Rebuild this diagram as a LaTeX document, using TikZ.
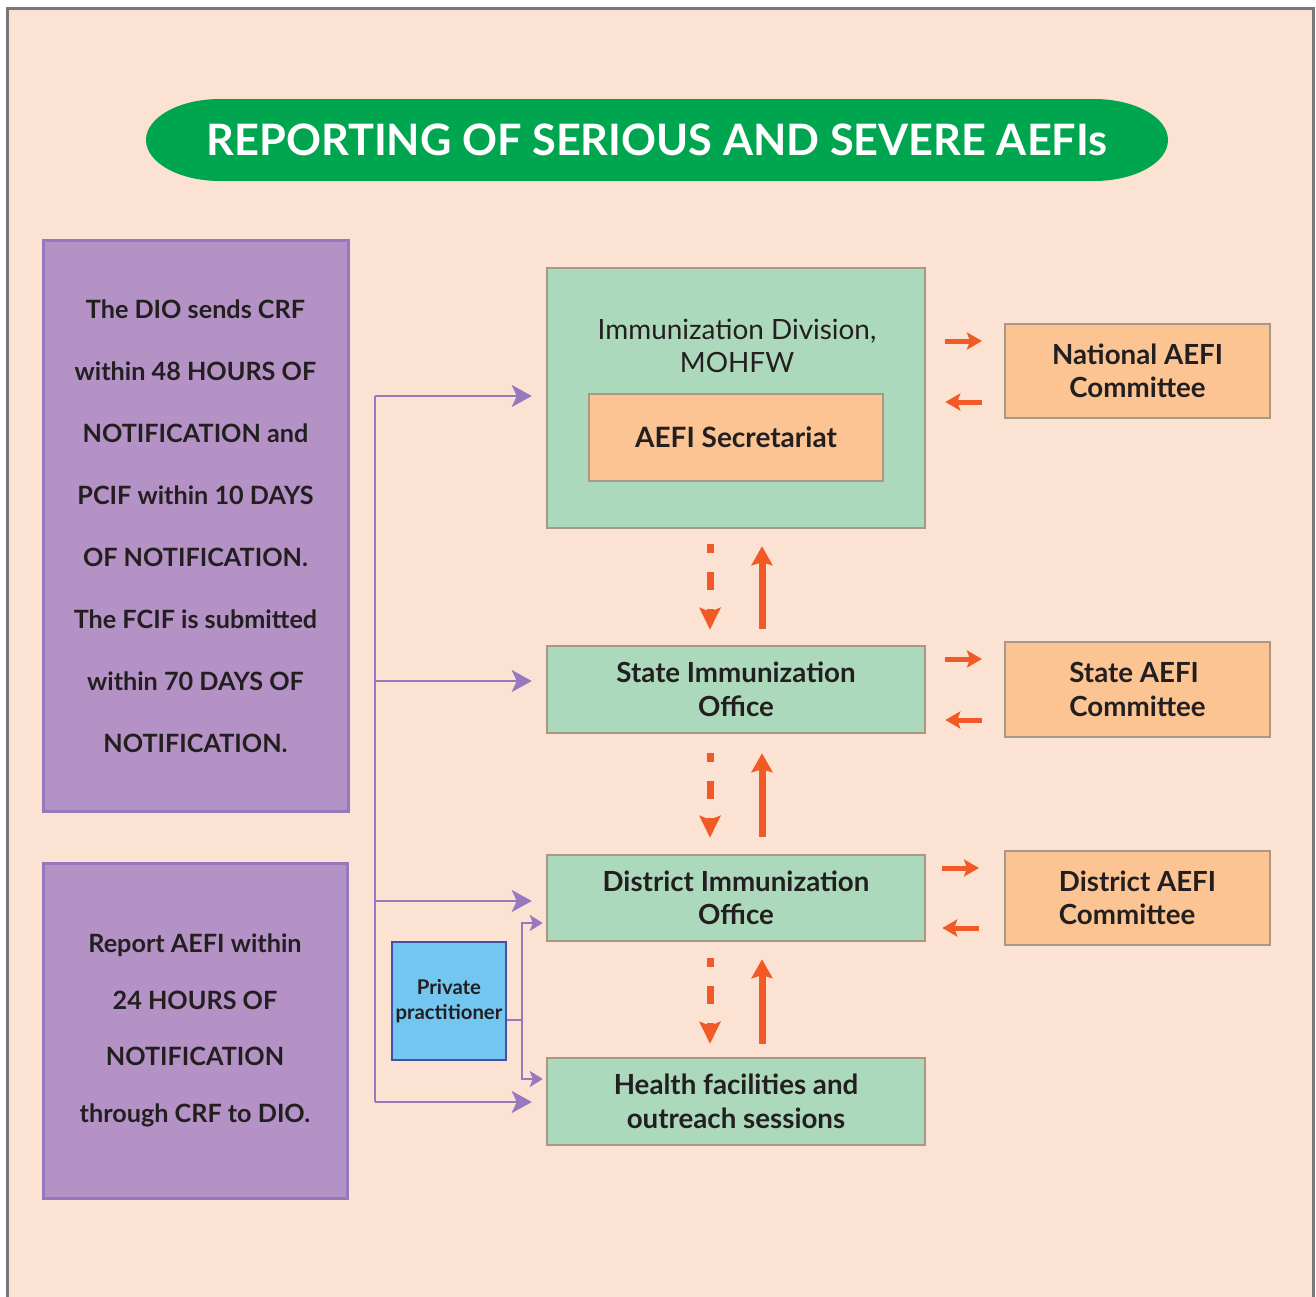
\documentclass[tikz,border=0pt]{standalone}
\usepackage{fontspec}
\setmainfont{Lato}
\usetikzlibrary{arrows.meta}
\definecolor{bg}{HTML}{FCE2D2}
\definecolor{framegray}{HTML}{77787B}
\definecolor{titlegreen}{HTML}{00A54F}
\definecolor{purplefill}{HTML}{B592C5}
\definecolor{purpleline}{HTML}{9579BC}
\definecolor{purplearrow}{HTML}{9878BE}
\definecolor{greenfill}{HTML}{ACD9BC}
\definecolor{boxline}{HTML}{A7998A}
\definecolor{orangefill}{HTML}{FBC492}
\definecolor{arroworange}{HTML}{F15A24}
\definecolor{bluefill}{HTML}{72C6EF}
\definecolor{blueline}{HTML}{4451A3}
\definecolor{ink}{HTML}{231F20}
\begin{document}
\begin{tikzpicture}[x=1pt,y=-1pt,
  greenbox/.style={draw=boxline, line width=2.5pt, fill=greenfill, text=ink, align=center, inner sep=0pt, minimum width=378pt,
     font=\fontsize{27.7}{33.5}\selectfont\bfseries},
  orangebox/.style={draw=boxline, line width=2pt, fill=orangefill, text=ink, inner sep=0pt,
     font=\fontsize{27.7}{33.5}\selectfont\bfseries},
  purplebox/.style={draw=purpleline, line width=3pt, fill=purplefill, text=ink, align=center, inner sep=0pt},
  purpline/.style={draw=purplearrow, line width=2.5pt},
  purparrow/.style={purpline, -{Stealth[length=20pt,width=22pt,inset=5pt]}},
  purpsmall/.style={purpline, -{Stealth[length=13pt,width=16pt,inset=3pt]}},
  uparrow/.style={draw=arroworange, line width=7pt, -{Stealth[length=19pt,width=21pt,inset=3pt]}},
  dasharrow/.style={draw=arroworange, line width=7pt, dash pattern=on 18pt off 19pt, dash phase=9pt,
     -{Stealth[length=22pt,width=21pt,inset=4pt]}},
  harrow/.style={draw=arroworange, line width=5pt, -{Stealth[length=15pt,width=17pt,inset=3pt]}},
]
\useasboundingbox (0,0) rectangle (1316,1297);
\fill[white] (0,0) rectangle (1316,1297);
\draw[framegray, line width=2.5pt, fill=bg] (7.5,8.5) rectangle (1313.5,1320);

% title pill
\fill[titlegreen] (220,99) rectangle (1094,181);
\fill[titlegreen] (220,140) ellipse [x radius=74, y radius=41];
\fill[titlegreen] (1094,140) ellipse [x radius=74, y radius=41];
\node[text=white, font=\fontsize{43.3}{50}\selectfont\bfseries] (title) at (657,140) {REPORTING OF SERIOUS AND SEVERE AEFIs};

% left purple boxes
\node[purplebox, minimum width=305pt, minimum height=570pt, font=\fontsize{25.2}{62}\selectfont\bfseries] (left1) at (195.5,526)
  {The DIO sends CRF\\within 48 HOURS OF\\NOTIFICATION and\\PCIF within 10 DAYS\\OF NOTIFICATION.\\The FCIF is submitted\\within 70 DAYS OF\\NOTIFICATION.};
\node[purplebox, minimum width=304pt, minimum height=335pt, font=\fontsize{25.2}{56.5}\selectfont\bfseries] (left2) at (195,1030.5)
  {Report AEFI within\\24 HOURS OF\\NOTIFICATION\\through CRF to DIO.};

% central column
\node[greenbox, minimum height=260pt] (idiv) at (736,398) {};
\node[text=ink, align=center, font=\fontsize{27.9}{33.5}\selectfont] (idivlabel) at (737,346) {Immunization Division,\\MOHFW};
\node[orangebox, minimum width=294pt, minimum height=87pt, font=\fontsize{28}{33.5}\selectfont\bfseries] (secr) at (736,437.5) {AEFI Secretariat};
\node[greenbox, minimum height=87pt] (state) at (736,689.5) {State Immunization\\Office};
\node[greenbox, minimum height=86pt] (district) at (736,898) {District Immunization\\Office};
\node[greenbox, minimum height=87pt] (health) at (736,1101.5) {Health facilities and\\outreach sessions};

% committees
\node[orangebox, align=center, minimum width=265pt, minimum height=94pt] (natc) at (1137.5,371) {National AEFI\\Committee};
\node[orangebox, align=left, minimum width=265pt, minimum height=95pt] (statec) at (1137.5,689.5) {State AEFI\\Committee};
\node[orangebox, align=left, minimum width=265pt, minimum height=94pt] (distc) at (1137.5,898) {District AEFI\\Committee};

% private practitioner
\node[draw=blueline, line width=2.5pt, fill=bluefill, text=ink, align=center, inner sep=0pt,
  minimum width=114pt, minimum height=118pt, font=\fontsize{20.3}{25}\selectfont\bfseries] (priv) at (449,1001)
  {Private\\practitioner};

% vertical orange arrows
\coordinate (dcol) at (710,0);
\coordinate (ucol) at (762,0);
\draw[dasharrow, shorten <=15pt, shorten >=15pt] (idiv.south -| dcol) -- (state.north -| dcol);
\draw[uparrow, shorten <=16pt, shorten >=17pt] (state.north -| ucol) -- (idiv.south -| ucol);
\draw[dasharrow, shorten <=19pt, shorten >=16pt] (state.south -| dcol) -- (district.north -| dcol);
\draw[uparrow, shorten <=17pt, shorten >=19pt] (district.north -| ucol) -- (state.south -| ucol);
\draw[dasharrow, shorten <=16pt, shorten >=13pt] (district.south -| dcol) -- (health.north -| dcol);
\draw[uparrow, shorten <=13pt, shorten >=17pt] (health.north -| ucol) -- (district.south -| ucol);

% horizontal orange arrows
\draw[harrow, shorten <=19pt, shorten >=22pt] (idiv.east |- 0,341) -- (natc.west |- 0,341);
\draw[harrow, shorten <=22pt, shorten >=19pt] (natc.west |- 0,402) -- (idiv.east |- 0,402);
\draw[harrow, shorten <=19pt, shorten >=22pt] (state.east |- 0,659) -- (statec.west |- 0,659);
\draw[harrow, shorten <=22pt, shorten >=19pt] (statec.west |- 0,720) -- (state.east |- 0,720);
\draw[harrow, shorten <=16pt, shorten >=25pt] (district.east |- 0,868) -- (distc.west |- 0,868);
\draw[harrow, shorten <=25pt, shorten >=16pt] (distc.west |- 0,928) -- (district.east |- 0,928);

% purple trunk and branches
\coordinate (trunktop) at (375,396);
\coordinate (trunkbot) at (375,1102);
\draw[purpline] (trunktop) -- (trunkbot);
\draw[purparrow, shorten >=14pt] (trunktop) -- (trunktop -| idiv.west);
\draw[purparrow, shorten >=14pt] (trunktop |- 0,681) -- (state.west |- 0,681);
\draw[purparrow, shorten >=14pt] (trunktop |- 0,901) -- (district.west |- 0,901);
\draw[purparrow, shorten >=14pt] (trunkbot) -- (trunkbot -| health.west);

% private practitioner connectors
\coordinate (pjoin) at (522,1020);
\draw[purpline] (priv.east |- pjoin) -- (pjoin);
\draw[purpsmall, shorten >=3pt] (pjoin) |- (district.west |- 0,923);
\draw[purpsmall, shorten >=3pt] (pjoin) |- (health.west |- 0,1079);
\end{tikzpicture}
\end{document}
